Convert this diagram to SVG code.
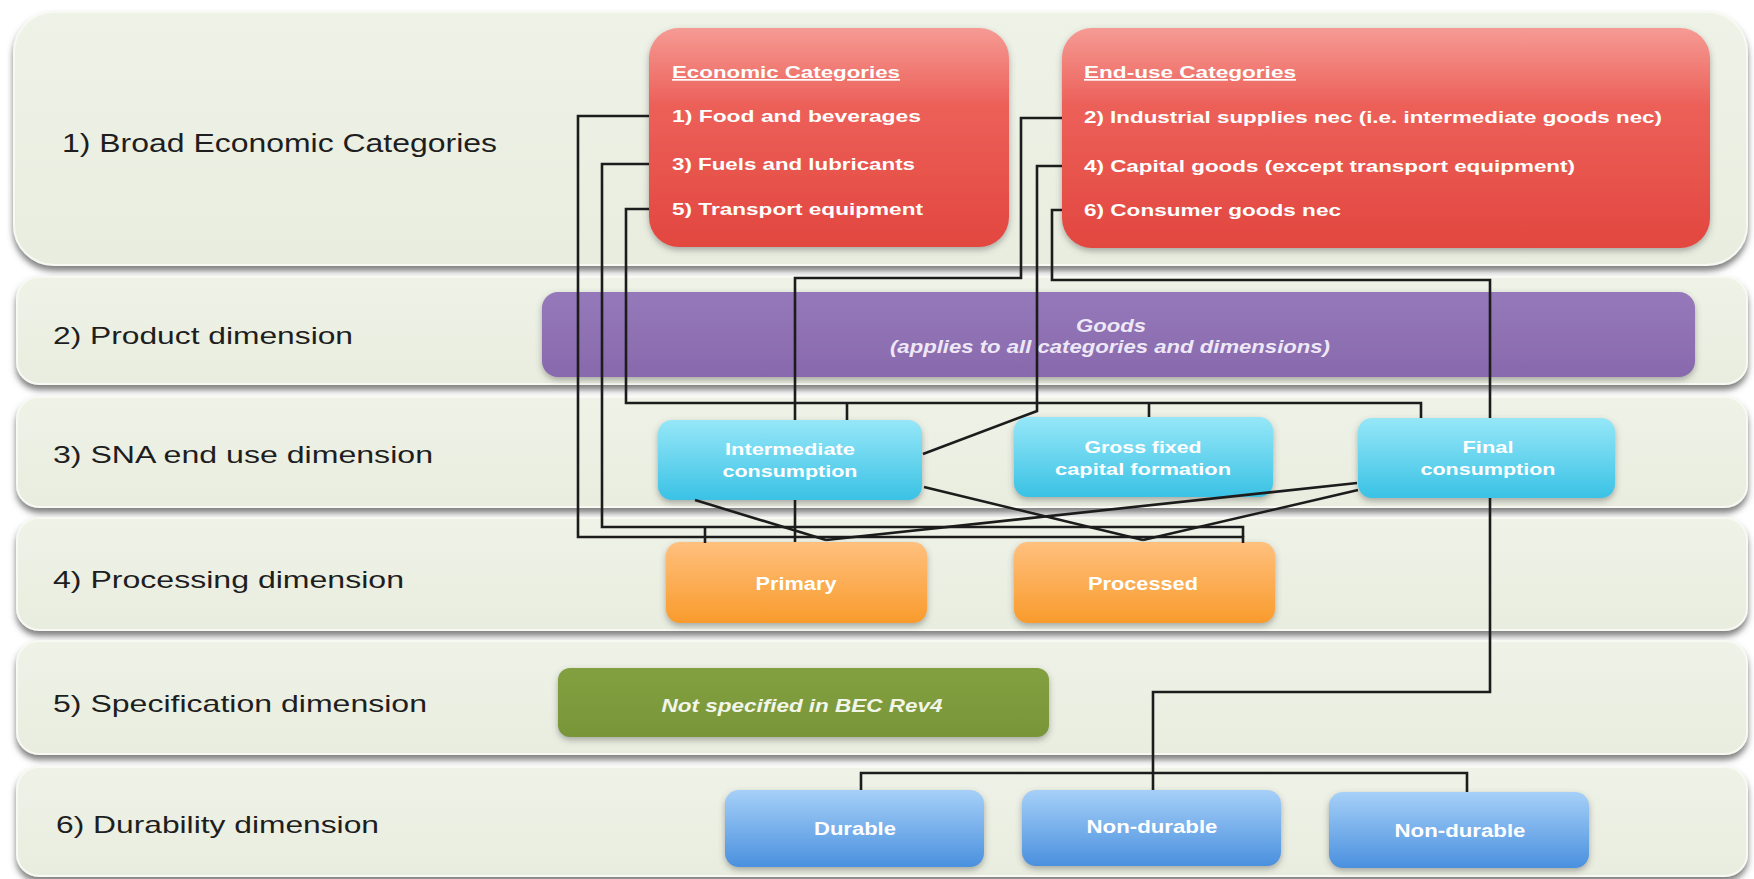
<svg xmlns="http://www.w3.org/2000/svg" width="1754" height="879" viewBox="0 0 1754 879">
<defs>
<linearGradient id="gBand" x1="0" y1="0" x2="0" y2="1"><stop offset="0" stop-color="#EFF2E7"/><stop offset="1" stop-color="#E9EDDF"/></linearGradient>
<linearGradient id="gRed" x1="0" y1="0" x2="0" y2="1"><stop offset="0" stop-color="#F59B94"/><stop offset="0.35" stop-color="#EC6059"/><stop offset="1" stop-color="#E2473F"/></linearGradient>
<linearGradient id="gPurple" x1="0" y1="0" x2="0" y2="1"><stop offset="0" stop-color="#9579BA"/><stop offset="1" stop-color="#8869AD"/></linearGradient>
<linearGradient id="gCyan" x1="0" y1="0" x2="0" y2="1"><stop offset="0" stop-color="#96E7F8"/><stop offset="1" stop-color="#3AC2E5"/></linearGradient>
<linearGradient id="gOrange" x1="0" y1="0" x2="0" y2="1"><stop offset="0" stop-color="#FFC07E"/><stop offset="1" stop-color="#F99B2C"/></linearGradient>
<linearGradient id="gGreen" x1="0" y1="0" x2="0" y2="1"><stop offset="0" stop-color="#83A040"/><stop offset="1" stop-color="#789638"/></linearGradient>
<linearGradient id="gBlue" x1="0" y1="0" x2="0" y2="1"><stop offset="0" stop-color="#A6D0F8"/><stop offset="1" stop-color="#4A90DE"/></linearGradient>
<filter id="shBand" x="-5%" y="-10%" width="110%" height="130%"><feDropShadow dx="0" dy="5" stdDeviation="3" flood-color="#555" flood-opacity="0.75"/></filter>
<filter id="shBox" x="-10%" y="-10%" width="120%" height="130%"><feDropShadow dx="0" dy="3" stdDeviation="3" flood-color="#555" flood-opacity="0.45"/></filter>
</defs>
<style>
.band{fill:url(#gBand);stroke:#F7F9F2;stroke-width:2;filter:url(#shBand)}
.lbl{font-family:"Liberation Sans",Arial,sans-serif;fill:#1E1E1E}
.wt{font-family:"Liberation Sans",Arial,sans-serif;fill:#FFFFFF;font-weight:bold}
.red{fill:url(#gRed);filter:url(#shBox)}
.cyan{fill:url(#gCyan);filter:url(#shBox)}
.orange{fill:url(#gOrange);filter:url(#shBox)}
.blue{fill:url(#gBlue);filter:url(#shBox)}
.conn{fill:none;stroke:#1C1C1C;stroke-width:2.6;stroke-linejoin:miter}
</style>
<rect width="1754" height="879" fill="#FFFFFF"/>

<g id="row1"><rect class="band" x="14" y="12" width="1733" height="253" rx="40"/>
<text class="lbl" x="62" y="152" font-size="26" textLength="435" lengthAdjust="spacingAndGlyphs">1) Broad Economic Categories</text></g>
<g id="row2"><rect class="band" x="17" y="277" width="1730" height="107" rx="22"/>
<text class="lbl" x="53" y="344" font-size="24" textLength="300" lengthAdjust="spacingAndGlyphs">2) Product dimension</text></g>
<g id="row3"><rect class="band" x="17" y="397" width="1730" height="110" rx="22"/>
<text class="lbl" x="53" y="463" font-size="24" textLength="380" lengthAdjust="spacingAndGlyphs">3) SNA end use dimension</text></g>
<g id="row4"><rect class="band" x="17" y="518" width="1730" height="112" rx="22"/>
<text class="lbl" x="53" y="588" font-size="24" textLength="351" lengthAdjust="spacingAndGlyphs">4) Processing dimension</text></g>
<g id="row5"><rect class="band" x="17" y="641" width="1730" height="113" rx="22"/>
<text class="lbl" x="53" y="712" font-size="24" textLength="374" lengthAdjust="spacingAndGlyphs">5) Specification dimension</text></g>
<g id="row6"><rect class="band" x="17" y="767" width="1730" height="109" rx="22"/>
<text class="lbl" x="56" y="833" font-size="24" textLength="323" lengthAdjust="spacingAndGlyphs">6) Durability dimension</text></g>

<g id="economic-categories"><rect class="red" x="649" y="28" width="360" height="219" rx="30"/>
<text class="wt" x="672" y="78" font-size="17" textLength="228" lengthAdjust="spacingAndGlyphs" text-decoration="underline">Economic Categories</text>
<text class="wt" x="672" y="122" font-size="17" textLength="249" lengthAdjust="spacingAndGlyphs">1) Food and beverages</text>
<text class="wt" x="672" y="170" font-size="17" textLength="243" lengthAdjust="spacingAndGlyphs">3) Fuels and lubricants</text>
<text class="wt" x="672" y="215" font-size="17" textLength="251" lengthAdjust="spacingAndGlyphs">5) Transport equipment</text></g>

<g id="end-use-categories"><rect class="red" x="1062" y="28" width="648" height="220" rx="30"/>
<text class="wt" x="1084" y="78" font-size="17" textLength="212" lengthAdjust="spacingAndGlyphs" text-decoration="underline">End-use Categories</text>
<text class="wt" x="1084" y="123" font-size="17" textLength="578" lengthAdjust="spacingAndGlyphs">2) Industrial supplies nec (i.e. intermediate goods nec)</text>
<text class="wt" x="1084" y="172" font-size="17" textLength="491" lengthAdjust="spacingAndGlyphs">4) Capital goods (except transport equipment)</text>
<text class="wt" x="1084" y="216" font-size="17" textLength="257" lengthAdjust="spacingAndGlyphs">6) Consumer goods nec</text></g>

<g id="goods"><rect x="542" y="292" width="1153" height="85" rx="16" fill="url(#gPurple)" filter="url(#shBox)"/>
<text x="1111" y="332" font-size="18" font-style="italic" font-weight="bold" text-anchor="middle" textLength="70" lengthAdjust="spacingAndGlyphs" font-family="Liberation Sans, Arial, sans-serif" fill="#EEE8F6">Goods</text>
<text x="1110" y="353" font-size="18" font-style="italic" font-weight="bold" text-anchor="middle" textLength="440" lengthAdjust="spacingAndGlyphs" font-family="Liberation Sans, Arial, sans-serif" fill="#EEE8F6">(applies to all categories and dimensions)</text></g>

<g id="intermediate"><rect class="cyan" x="658" y="420" width="264" height="80" rx="14"/>
<text class="wt" x="790" y="455" font-size="17" text-anchor="middle" textLength="130" lengthAdjust="spacingAndGlyphs">Intermediate</text>
<text class="wt" x="790" y="477" font-size="17" text-anchor="middle" textLength="135" lengthAdjust="spacingAndGlyphs">consumption</text></g>
<g id="gfcf"><rect class="cyan" x="1014" y="417" width="259" height="80" rx="14"/>
<text class="wt" x="1143" y="453" font-size="17" text-anchor="middle" textLength="117" lengthAdjust="spacingAndGlyphs">Gross fixed</text>
<text class="wt" x="1143" y="475" font-size="17" text-anchor="middle" textLength="176" lengthAdjust="spacingAndGlyphs">capital formation</text></g>
<g id="final"><rect class="cyan" x="1358" y="418" width="257" height="80" rx="14"/>
<text class="wt" x="1488" y="453" font-size="17" text-anchor="middle" textLength="51" lengthAdjust="spacingAndGlyphs">Final</text>
<text class="wt" x="1488" y="475" font-size="17" text-anchor="middle" textLength="135" lengthAdjust="spacingAndGlyphs">consumption</text></g>

<g id="primary"><rect class="orange" x="666" y="542" width="261" height="81" rx="14"/>
<text class="wt" x="796" y="590" font-size="18" text-anchor="middle" textLength="81" lengthAdjust="spacingAndGlyphs">Primary</text></g>
<g id="processed"><rect class="orange" x="1014" y="542" width="261" height="81" rx="14"/>
<text class="wt" x="1143" y="590" font-size="18" text-anchor="middle" textLength="110" lengthAdjust="spacingAndGlyphs">Processed</text></g>

<g id="not-specified"><rect x="558" y="668" width="491" height="69" rx="12" fill="url(#gGreen)" filter="url(#shBox)"/>
<text x="802" y="712" font-size="18" font-style="italic" font-weight="bold" text-anchor="middle" textLength="281" lengthAdjust="spacingAndGlyphs" font-family="Liberation Sans, Arial, sans-serif" fill="#F2F5EA">Not specified in BEC Rev4</text></g>

<g id="durable"><rect class="blue" x="725" y="790" width="259" height="77" rx="14"/>
<text class="wt" x="855" y="835" font-size="18" text-anchor="middle" textLength="82" lengthAdjust="spacingAndGlyphs">Durable</text></g>
<g id="non-durable-1"><rect class="blue" x="1022" y="790" width="259" height="76" rx="14"/>
<text class="wt" x="1152" y="833" font-size="18" text-anchor="middle" textLength="131" lengthAdjust="spacingAndGlyphs">Non-durable</text></g>
<g id="non-durable-2"><rect class="blue" x="1329" y="792" width="260" height="76" rx="14"/>
<text class="wt" x="1460" y="837" font-size="18" text-anchor="middle" textLength="131" lengthAdjust="spacingAndGlyphs">Non-durable</text></g>

<g id="connectors">
<path class="conn" d="M649,116 H578 V537 H1243 V543 M705,537 V543"/>
<path class="conn" d="M649,164 H602 V527 H1243 V537 M705,527 V537"/>
<path class="conn" d="M649,209 H626 V403 H1421 V418 M847,403 V420 M1149,403 V417"/>
<path class="conn" d="M1062,118 H1021 V278 H795 V420"/>
<path class="conn" d="M1062,166 H1037 V411 L923,454"/>
<path class="conn" d="M1062,210 H1052 V280 H1490 V418"/>
<path class="conn" d="M795,500 V542"/>
<path class="conn" d="M695,500 L826,540"/>
<path class="conn" d="M1357,483 L826,540"/>
<path class="conn" d="M924,487 L1143,540"/>
<path class="conn" d="M1358,490 L1143,540"/>
<path class="conn" d="M1490,498 V692 H1153 V790"/>
<path class="conn" d="M861,790 V773 H1467 V792"/>
</g>
</svg>
